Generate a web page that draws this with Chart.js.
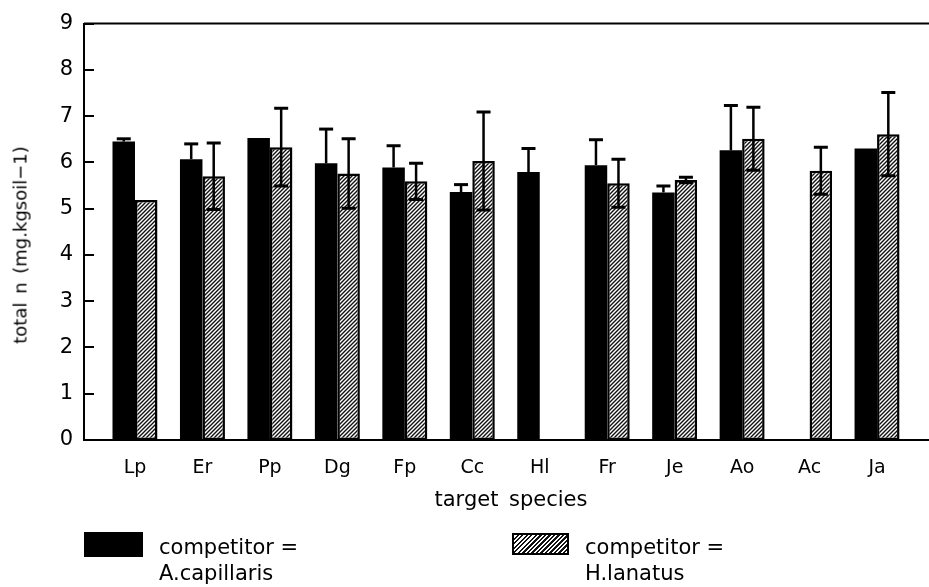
<!DOCTYPE html>
<html>
<head>
<meta charset="utf-8">
<script src="https://cdn.jsdelivr.net/npm/chart.js@4/dist/chart.umd.min.js"></script>
<style>
  body { margin: 0; background: #fff; }
  #wrap { position: relative; width: 929px; height: 587px; font-family: "DejaVu Sans", sans-serif; color: #000; }
  #chartCanvas { position: absolute; left: 0; top: 0; }
  .ytitle { position: absolute; left: 20px; top: 245px; transform: translate(-50%, -50%) rotate(-90deg); font-size: 18px; white-space: nowrap; word-spacing: 3px; }
  .xtitle { position: absolute; left: 511px; top: 499px; transform: translate(-50%, -50%); font-size: 21px; white-space: nowrap; word-spacing: 4px; }
  .lg { position: absolute; font-size: 21px; line-height: 26px; }
  .sw { position: absolute; box-sizing: border-box; }
  .sw.black { background: #000; width: 59px; height: 25px; }
  .sw.hatch { width: 57px; height: 22px; border: 2px solid #000; background: repeating-linear-gradient(-45deg, #fff 0 1.6px, #111 1.6px 3.2px); }
</style>
</head>
<body>
<div id="wrap">
  <canvas id="chartCanvas" width="929" height="587"></canvas>
  <div class="ytitle">total n (mg.kgsoil−1)</div>
  <div class="xtitle">target species</div>
  <div class="sw black" style="left:84px; top:532px;"></div>
  <div class="lg" style="left:159px; top:534px;">competitor =<br>A.capillaris</div>
  <div class="sw hatch" style="left:512px; top:533px;"></div>
  <div class="lg" style="left:585px; top:534px;">competitor =<br>H.lanatus</div>
</div>
<script>
const species = ['Lp', 'Er', 'Pp', 'Dg', 'Fp', 'Cc', 'Hl', 'Fr', 'Je', 'Ao', 'Ac', 'Ja'];
// competitor = A.capillaris (black bars)
const capillaris = [6.45, 6.07, 6.53, 5.98, 5.89, 5.36, 5.79, 5.94, 5.35, 6.26, null, 6.30];
const capillarisErr = [0.06, 0.33, 0, 0.74, 0.47, 0.16, 0.51, 0.55, 0.14, 0.97, null, 0];
// competitor = H.lanatus (hatched bars)
const lanatus = [5.19, 5.70, 6.33, 5.76, 5.59, 6.03, null, 5.55, 5.62, 6.51, 5.82, 6.61];
const lanatusErr = [0, 0.72, 0.84, 0.75, 0.39, 1.06, null, 0.52, 0.06, 0.68, 0.51, 0.90];
const yTicks = [0, 1, 2, 3, 4, 5, 6, 7, 8, 9];

function makeHatch() {
    const c = document.createElement('canvas');
    c.width = 4; c.height = 4;
    const g = c.getContext('2d');
    g.fillStyle = '#fff';
    g.fillRect(0, 0, 4, 4);
    g.strokeStyle = '#111';
    g.lineWidth = 1.4;
    g.beginPath();
    g.moveTo(-1, 5); g.lineTo(5, -1);
    g.moveTo(-1, 1); g.lineTo(1, -1);
    g.moveTo(3, 5); g.lineTo(5, 3);
    g.stroke();
    return g.createPattern(c, 'repeat');
}

// error bars: black bars show only the upper arm, hatched bars both arms
const errorBars = {
    id: 'errorBars',
    afterDatasetsDraw(chart) {
        const ctx = chart.ctx;
        const y = chart.scales.y;
        const errs = [capillarisErr, lanatusErr];
        ctx.save();
        ctx.strokeStyle = '#000';
        chart.data.datasets.forEach((ds, di) => {
            const meta = chart.getDatasetMeta(di);
            meta.data.forEach((bar, i) => {
                const v = ds.data[i].y;
                const e = errs[di][i];
                if (v == null || !e) return;
                const top = y.getPixelForValue(v + e);
                const bot = di === 0 ? bar.y : y.getPixelForValue(v - e);
                ctx.lineWidth = 2.5;
                ctx.beginPath();
                ctx.moveTo(bar.x, bot);
                ctx.lineTo(bar.x, top);
                ctx.stroke();
                ctx.lineWidth = 3;
                ctx.beginPath();
                ctx.moveTo(bar.x - 7, top);
                ctx.lineTo(bar.x + 7, top);
                if (di === 1) {
                    ctx.moveTo(bar.x - 7, bot);
                    ctx.lineTo(bar.x + 7, bot);
                }
                ctx.stroke();
            });
        });
        ctx.restore();
    }
};

// frame: top line and inward tick marks on the y axis
const frame = {
    id: 'frame',
    afterDraw(chart) {
        const ctx = chart.ctx;
        const a = chart.chartArea;
        const y = chart.scales.y;
        ctx.save();
        ctx.strokeStyle = '#000';
        ctx.lineWidth = 2;
        ctx.beginPath();
        ctx.moveTo(a.left, a.top);
        ctx.lineTo(a.right, a.top);
        yTicks.forEach(t => {
            const p = Math.round(y.getPixelForValue(t));
            ctx.moveTo(a.left, p);
            ctx.lineTo(a.left + 10, p);
        });
        ctx.stroke();
        ctx.restore();
    }
};

const ctx = document.getElementById('chartCanvas').getContext('2d');
new Chart(ctx, {
    type: 'bar',
    data: {
        datasets: [{
            label: 'competitor = A.capillaris',
            data: capillaris.map((v, i) => ({ x: i, y: v })),
            backgroundColor: '#000',
            borderWidth: 0
        }, {
            label: 'competitor = H.lanatus',
            data: lanatus.map((v, i) => ({ x: i, y: v })),
            backgroundColor: makeHatch(),
            borderColor: '#000',
            borderWidth: 2.5,
            borderSkipped: false
        }]
    },
    options: {
        responsive: false,
        animation: false,
        devicePixelRatio: 1,
        categoryPercentage: 0.667,
        barPercentage: 1.0,
        layout: { padding: { top: 17, right: 0, left: 0, bottom: 0 } },
        plugins: { legend: { display: false }, tooltip: { enabled: false } },
        scales: {
            x: {
                type: 'linear',
                offset: false,
                min: -0.756,
                max: 11.77,
                afterBuildTicks: axis => { axis.ticks = species.map((s, i) => ({ value: i })); },
                afterFit: axis => { axis.height = 147; },
                grid: { display: false, drawTicks: false },
                border: { display: true, color: '#000', width: 2 },
                ticks: {
                    autoSkip: false,
                    maxRotation: 0,
                    padding: 17,
                    color: '#000',
                    font: { family: 'DejaVu Sans', size: 19 },
                    callback: v => species[v]
                }
            },
            y: {
                min: 0,
                max: 9,
                afterBuildTicks: axis => { axis.ticks = yTicks.map(v => ({ value: v })); },
                afterFit: axis => { axis.width = 84; },
                grid: { display: false, drawTicks: false },
                border: { display: true, color: '#000', width: 2 },
                ticks: {
                    padding: 11,
                    color: '#000',
                    font: { family: 'DejaVu Sans', size: 21 }
                }
            }
        }
    },
    plugins: [errorBars, frame]
});
</script>
</body>
</html>
